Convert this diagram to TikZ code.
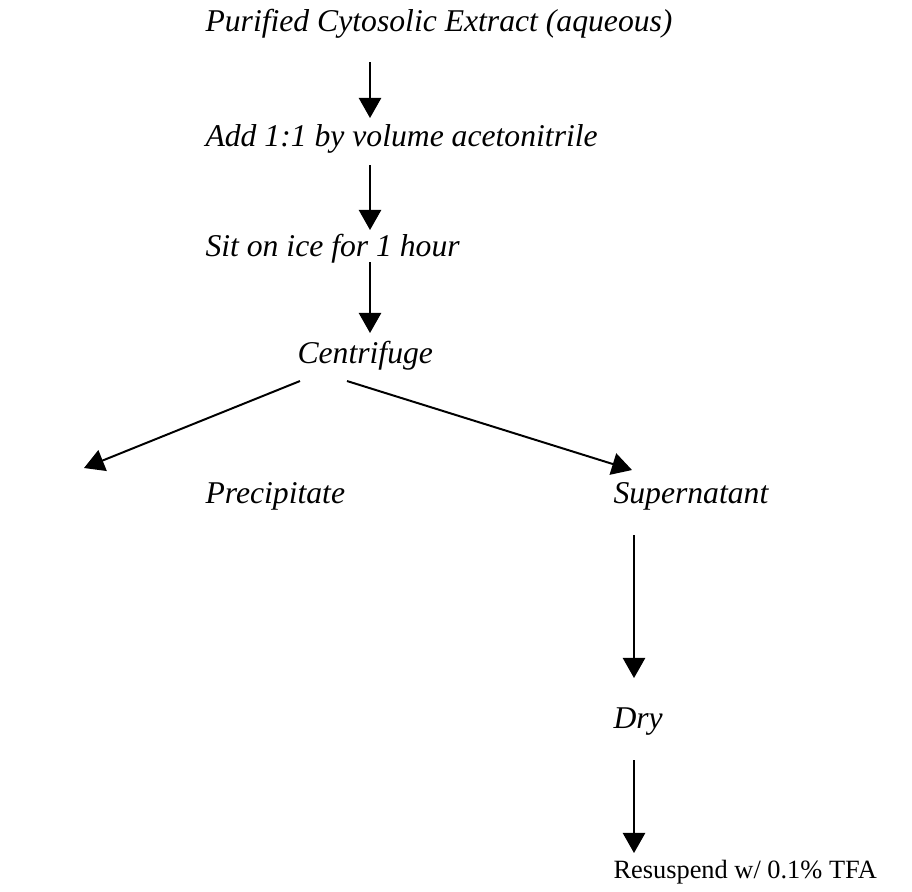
\documentclass[tikz,border=0pt]{standalone}
\usepackage{fontspec}
\setmainfont{Liberation Serif}
\usetikzlibrary{arrows.meta,calc}

\tikzset{
  steptext/.style={anchor=base west, inner sep=0pt, font=\fontsize{12}{14}\selectfont\itshape},
  flow/.style={-{Triangle[width=8.4pt,length=7.6pt]}, line width=0.75pt},
}

\begin{document}
\begin{tikzpicture}[x=0.379pt,y=-0.379pt]
	\useasboundingbox (0,0) rectangle (912,891);
	%Assi delle frecce
	\coordinate (mainx) at (370,0);
	\coordinate (rightx) at (634,0);
	%Passaggi
	\node [steptext] (extract) at (205,31) {Purified Cytosolic Extract (aqueous)};
	\node [steptext] (addacn) at (205,146) {Add 1:1 by volume acetonitrile};
	\node [steptext] (ice) at (205,256) {Sit on ice for 1 hour};
	\node [steptext] (centrifuge) at (297,363) {Centrifuge};
	\node [steptext] (precip) at (205,503) {Precipitate};
	\node [steptext] (super) at (613,503) {Supernatant};
	\node [steptext] (dry) at (613,728) {Dry};
	\node [steptext, font=\fontsize{10}{12}\selectfont] (resusp) at (613,878) {Resuspend w/ 0.1\% TFA};
	%Frecce verticali
	\draw [flow] ($(extract.base -| mainx)+(0,31)$) -- ($(addacn.base -| mainx)+(0,-28)$);
	\draw [flow] ($(addacn.base -| mainx)+(0,19)$) -- ($(ice.base -| mainx)+(0,-26)$);
	\draw [flow] ($(ice.base -| mainx)+(0,6)$) -- ($(centrifuge.base -| mainx)+(0,-30)$);
	%Biforcazione
	\draw [flow] ($(centrifuge.base west)+(3,18)$) -- ($(precip.base west)+(-121,-35)$);
	\draw [flow] ($(centrifuge.base west)+(50,18)$) -- ($(super.base west)+(19,-33)$);
	%Ramo del surnatante
	\draw [flow] ($(super.base -| rightx)+(0,32)$) -- ($(dry.base -| rightx)+(0,-50)$);
	\draw [flow] ($(dry.base -| rightx)+(0,32)$) -- ($(resusp.base -| rightx)+(0,-25)$);
\end{tikzpicture}
\end{document}
